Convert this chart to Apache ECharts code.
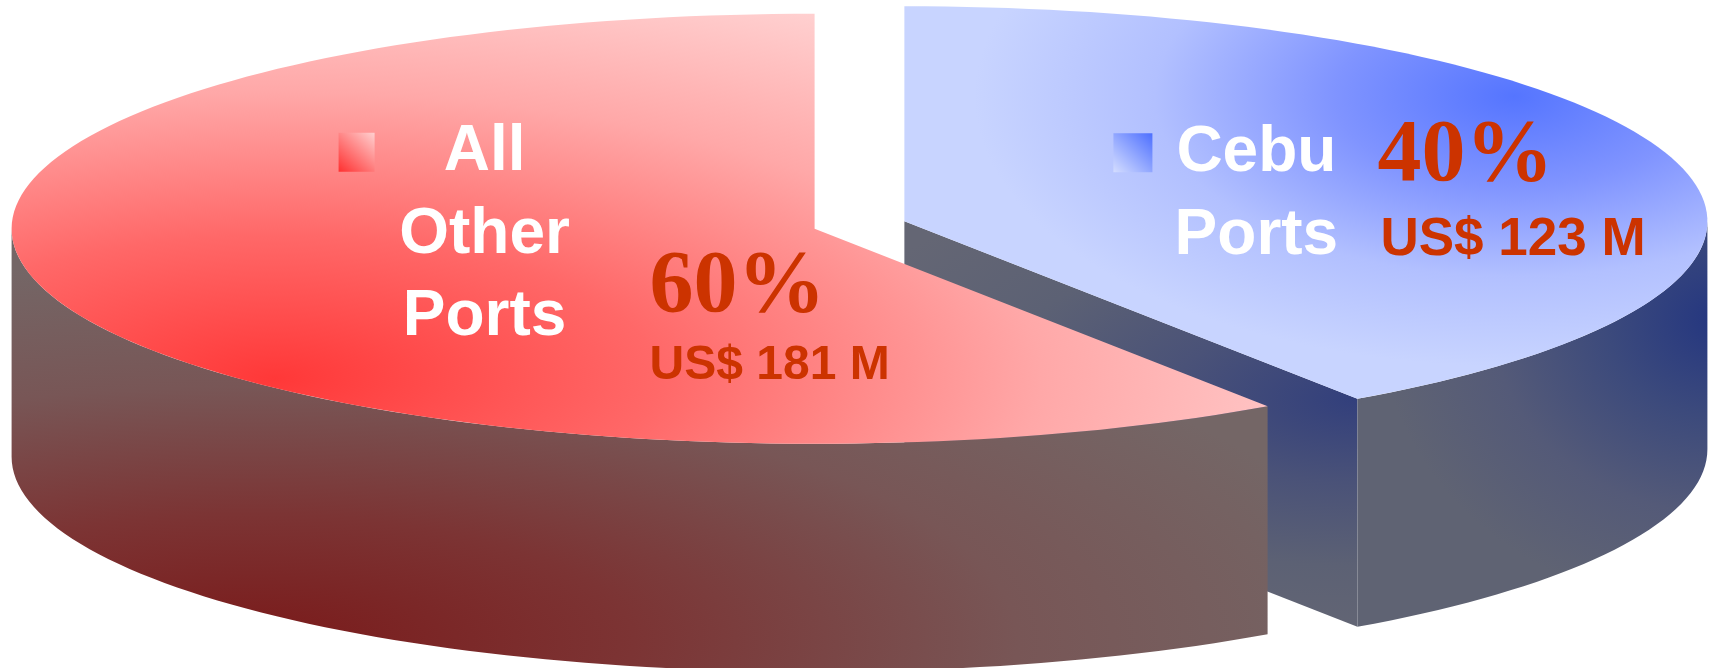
<!DOCTYPE html>
<html>
<head>
<meta charset="utf-8">
<script src="https://cdn.jsdelivr.net/npm/echarts@6/dist/echarts.min.js"></script>
<style>
html, body { margin: 0; padding: 0; background: #fff; }
#chart { width: 1713px; height: 668px; }
</style>
</head>
<body>
<div id="chart"></div>
<script>
// data, drawn clockwise from 12 o'clock (back slice first so the front one covers it)
var portNames = ['Cebu Ports', 'All Other Ports'];
var nameLines = [['Cebu', 'Ports'], ['All', 'Other', 'Ports']];
var amounts = [123, 181]; // US$ M

// pie geometry (px)
var pie = { cx: 859.5, cy: 225, rx: 803, ry: 215, depth: 228, explode: 47 };

// colours of each slice: elliptical radial gradients, offsets from slice centre
var sliceStyles = [
    {
        top: { dx: 610, dy: -125, rx: 540, ry: 270, stops: ['#5575ff', '#8094ff', '#b2c0ff', '#c8d4ff'] },
        wall: { dx: 815, dy: 98, rx: 340, ry: 290, stops: ['#243680', '#3c4a7c', '#545a78', '#5f6373'] },
        face: { rx: 560, ry: 250, stops: ['#323f7c', '#4a5278', '#5c6174', '#646674'] },
        icon: ['#d4ddff', '#4d6fff']
    },
    {
        top: { dx: -540, dy: 150, rx: 1150, ry: 430, stops: ['#ff3838', '#ff6868', '#ffa8a8', '#ffd4d4'] },
        wall: { dx: -564, dy: 412, rx: 1150, ry: 380, stops: ['#7a1a1a', '#7c3434', '#785656', '#746666'] },
        face: { rx: 500, ry: 250, stops: ['#7a3030', '#785050', '#746060', '#746666'] },
        icon: ['#ff3030', '#ffd0d0']
    }
];

// label layout, offsets from slice centre
var labelLayout = [
    { icon: [209, -88, 39, 39], nameX: 352, nameY: [-47, 36], pct: [473, -37], amt: [476, 36], amtSize: 53 },
    { icon: [-476, -96, 36, 39], nameX: -330, nameY: [-55, 28, 110], pct: [-165, 87], amt: [-165, 153], amtSize: 48 }
];

var total = amounts.reduce(function (s, v) { return s + v; }, 0);
var slices = [];
var acc = 90;
amounts.forEach(function (v) {
    var span = 360 * v / total;
    var mid = (acc - span / 2) * Math.PI / 180;
    slices.push({
        start: acc,
        end: acc - span,
        cx: pie.cx + pie.explode * Math.cos(mid),
        cy: pie.cy - pie.explode * Math.sin(mid) * pie.ry / pie.rx
    });
    acc -= span;
});

function pt(s, deg, dz) {
    var a = deg * Math.PI / 180;
    return [s.cx + pie.rx * Math.cos(a), s.cy - pie.ry * Math.sin(a) + (dz || 0)];
}

function arc(s, from, to, dz) {
    var n = Math.max(2, Math.ceil(Math.abs(from - to) / 1.5));
    var pts = [];
    for (var i = 0; i <= n; i++) {
        pts.push(pt(s, from + (to - from) * i / n, dz));
    }
    return pts;
}

function stopsOf(list) {
    return list.map(function (c, i) { return { offset: i / (list.length - 1), color: c }; });
}

// polygon filled with an elliptical radial gradient centred on (gx, gy)
function ellPoly(points, gx, gy, g) {
    var k = g.rx / g.ry;
    return {
        type: 'polygon',
        x: gx,
        y: gy,
        scaleY: 1 / k,
        shape: {
            points: points.map(function (p) { return [p[0] - gx, (p[1] - gy) * k]; })
        },
        style: {
            fill: { type: 'radial', x: 0, y: 0, r: g.rx, global: true, colorStops: stopsOf(g.stops) }
        }
    };
}

function frontRanges(s, e) {
    var out = [];
    for (var k = -1; k <= 1; k++) {
        var lo = Math.max(e, -180 + 360 * k);
        var hi = Math.min(s, 360 * k);
        if (hi > lo) out.push([lo, hi]);
    }
    return out;
}

var shadow = { shadowColor: 'rgba(90,90,90,0.5)', shadowOffsetX: 3, shadowOffsetY: 3, shadowBlur: 3 };

function text(x, y, str, font, fill, align, withShadow) {
    var st = { text: str, font: font, fill: fill, align: align, verticalAlign: 'middle' };
    if (withShadow) Object.assign(st, shadow);
    return { type: 'text', x: x, y: y, style: st };
}

function renderItem(params, api) {
    var i = params.dataIndex;
    var s = slices[i];
    var st = sliceStyles[i];
    var lay = labelLayout[i];
    var children = [];

    // radial cut faces that face the viewer
    [[s.start, s.start + 90], [s.end, s.end - 90]].forEach(function (f) {
        if (Math.sin(f[1] * Math.PI / 180) < -1e-6) {
            var o = pt(s, f[0], 0);
            var quad = [[s.cx, s.cy], o, [o[0], o[1] + pie.depth], [s.cx, s.cy + pie.depth]];
            children.push(ellPoly(quad, o[0], o[1], st.face));
        }
    });

    // outer wall, front half only
    frontRanges(s.start, s.end).forEach(function (r) {
        var topArc = arc(s, r[1], r[0], 0);
        var botArc = arc(s, r[0], r[1], pie.depth);
        children.push(ellPoly(topArc.concat(botArc), s.cx + st.wall.dx, s.cy + st.wall.dy, st.wall));
    });

    // top face
    var face = [[s.cx, s.cy]].concat(arc(s, s.start, s.end, 0));
    children.push(ellPoly(face, s.cx + st.top.dx, s.cy + st.top.dy, st.top));

    // legend key
    children.push({
        type: 'rect',
        shape: { x: s.cx + lay.icon[0], y: s.cy + lay.icon[1], width: lay.icon[2], height: lay.icon[3] },
        style: { fill: new echarts.graphic.LinearGradient(0, 1, 1, 0, stopsOf(st.icon)) }
    });

    // name
    nameLines[i].forEach(function (line, j) {
        children.push(text(s.cx + lay.nameX, s.cy + lay.nameY[j] - 21, line,
            'bold 64px "Liberation Sans", Arial, sans-serif', '#ffffff', 'center', false));
    });

    // share and amount
    var pct = Math.round(100 * api.value(0) / total) + '%';
    children.push(text(s.cx + lay.pct[0], s.cy + lay.pct[1] - 27, pct,
        'bold 88px "Liberation Serif", "Times New Roman", serif', '#cc3300', 'left', true));
    children.push(text(s.cx + lay.amt[0], s.cy + lay.amt[1] - Math.round(lay.amtSize * 0.33),
        'US$ ' + api.value(0) + ' M',
        'bold ' + lay.amtSize + 'px "Liberation Sans", Arial, sans-serif', '#cc3300', 'left', true));

    return { type: 'group', children: children };
}

var chart = echarts.init(document.getElementById('chart'));
chart.setOption({
    animation: false,
    backgroundColor: '#ffffff',
    series: [{
        type: 'custom',
        coordinateSystem: 'none',
        renderItem: renderItem,
        data: amounts.map(function (v, i) { return { name: portNames[i], value: v }; })
    }]
});
</script>
</body>
</html>
